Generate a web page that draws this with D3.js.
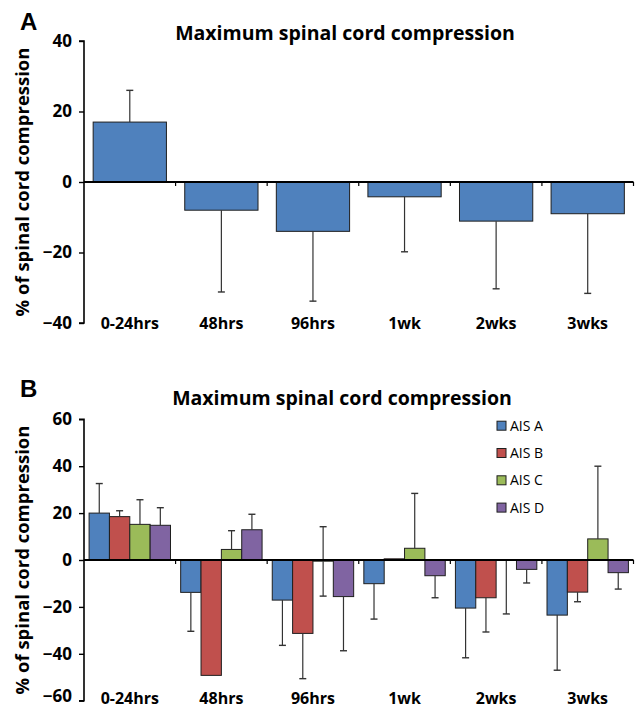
<!DOCTYPE html>
<html>
<head>
<meta charset="utf-8">
<script src="https://cdn.jsdelivr.net/npm/d3@7"></script>
<style>
  html, body { margin: 0; padding: 0; background: #fff; }
  svg { display: block; }
  text { font-family: "Open Sans", sans-serif; fill: #000; }
</style>
</head>
<body>
<svg id="chart" width="640" height="707"></svg>
<script>
// ---------- DATA ----------
const categories = ["0-24hrs", "48hrs", "96hrs", "1wk", "2wks", "3wks"];

// Panel A: overall
const valuesA   = [17, -8, -14, -4.2, -11.1, -9];
const errPlusA  = [9, 0, 0, 0, 0, 0];
const errMinusA = [0, 23.2, 19.8, 15.6, 19.2, 22.6];
const ticksA = [40, 20, 0, -20, -40];

// Panel B: by AIS grade
const seriesB = ["AIS A", "AIS B", "AIS C", "AIS D"];
const aisA = [20, -13.8, -17.1, -10.1, -20.5, -23.5];
const aisB = [18.5, -49.2, -31.3, 0.5, -16.1, -13.7];
const aisC = [15.2, 4.5, -0.5, 5.0, 0, 9.0];
const aisD = [14.8, 12.9, -15.6, -6.7, -4.0, -5.4];
const errPlusB = [
  [12.6, 0, 0, 0, 0, 0],
  [2.5, 0, 0, 0, 0, 0],
  [10.5, 8, 14.7, 23.4, 0, 31],
  [7.5, 6.6, 0, 0, 0, 0]
];
const errMinusB = [
  [0, 16.6, 19.3, 15.1, 21.2, 23.5],
  [0, 0, 19.3, 0, 14.6, 4.1],
  [0, 0, 14.9, 0, 23, 0],
  [0, 0, 23.1, 9.4, 5.8, 7]
];
const ticksB = [60, 40, 20, 0, -20, -40, -60];

const colors = ["#4F81BD", "#C0504D", "#9BBB59", "#8064A2"];
const titleText = "Maximum spinal cord compression";
const yTitle = "% of spinal cord compression";

// ---------- DRAW ----------
const svg = d3.select("#chart");
const left = 84, right = 633.5;

function panelFrame(g, y, yTicks, label, labelY, titleX, titleY, lastShift) {
  const ax = g.append("g").attr("transform", `translate(${left},0)`)
    .call(d3.axisLeft(y).tickValues(yTicks).tickSize(5).tickPadding(7).tickFormat(d3.format("d")));
  ax.select(".domain").attr("stroke", "#000").attr("stroke-width", 1.6)
    .attr("d", `M-5,${y(yTicks[0])}H0V${y(yTicks[yTicks.length-1])}H-5`);
  ax.selectAll(".tick line").attr("stroke", "#000").attr("stroke-width", 1.4);
  ax.selectAll(".tick text").style("font-size", "17px").style("font-weight", "700")
    .style("font-family", "'Open Sans', sans-serif").attr("fill", "#000");
  if (lastShift) {
    ax.selectAll(".tick text").filter(d => d === yTicks[yTicks.length - 1])
      .attr("y", -lastShift);
  }

  g.append("text").attr("x", 20).attr("y", labelY)
    .style("font-family", "'Liberation Sans', Arial, sans-serif")
    .style("font-size", "24px").style("font-weight", "700").text(label);
  g.append("text").attr("x", titleX).attr("y", titleY).attr("text-anchor", "middle")
    .style("font-size", "19.5px").style("font-weight", "700").text(titleText);
  g.append("text")
    .attr("transform", `translate(29,${(y(yTicks[0]) + y(yTicks[yTicks.length-1])) / 2}) rotate(-90)`)
    .attr("text-anchor", "middle")
    .style("font-size", "18.5px").style("font-weight", "700").text(yTitle);
}

function xAxisZero(g, x, y, labelY) {
  const step = x.step();
  const bounds = categories.map((c, i) => left + step * (i + 1));
  g.selectAll(".xt").data(bounds).enter().append("line")
    .attr("x1", d => d).attr("x2", d => d)
    .attr("y1", y(0)).attr("y2", y(0) + 4)
    .attr("stroke", "#000").attr("stroke-width", 1.2);
  g.append("line").attr("x1", left).attr("x2", right).attr("y1", y(0)).attr("y2", y(0))
    .attr("stroke", "#000").attr("stroke-width", 2);
  g.selectAll(".xl").data(categories).enter().append("text")
    .attr("x", d => x(d) + step / 2).attr("y", labelY)
    .attr("text-anchor", "middle")
    .style("font-size", "16px").style("font-weight", "700").text(d => d);
}

function errorBar(g, cx, y, v, plus, minus) {
  const cap = 3.5;
  const segs = [];
  if (plus > 0) segs.push([v, v + plus]);
  if (minus > 0) segs.push([v, v - minus]);
  segs.forEach(([a, b]) => {
    g.append("line").attr("x1", cx).attr("x2", cx).attr("y1", y(a)).attr("y2", y(b))
      .attr("stroke", "#333").attr("stroke-width", 1.2);
    g.append("line").attr("x1", cx - cap).attr("x2", cx + cap).attr("y1", y(b)).attr("y2", y(b))
      .attr("stroke", "#333").attr("stroke-width", 1.4);
  });
}

// ----- Panel A -----
(function () {
  const g = svg.append("g");
  const y = d3.scaleLinear().domain([-40, 40]).range([323, 41]);
  const xOuter = d3.scaleBand().domain(categories).range([left, right]).padding(0);
  const xBar = d3.scaleBand().domain(categories).range([left, right]).paddingInner(0.2).paddingOuter(0.1);

  const bars = categories.map((c, i) => ({ c, v: valuesA[i], p: errPlusA[i], m: errMinusA[i] }));
  bars.forEach(d => {
    g.append("rect")
      .attr("x", xBar(d.c)).attr("width", xBar.bandwidth())
      .attr("y", y(Math.max(0, d.v))).attr("height", Math.abs(y(d.v) - y(0)))
      .attr("fill", colors[0]).attr("stroke", "#1f1f1f").attr("stroke-width", 1);
  });
  bars.forEach(d => errorBar(g, xBar(d.c) + xBar.bandwidth() / 2, y, d.v, d.p, d.m));

  xAxisZero(g, xOuter, y, 328.5);
  panelFrame(g, y, ticksA, "A", 30, 345, 40, 0);
})();

// ----- Panel B -----
(function () {
  const g = svg.append("g");
  const y = d3.scaleLinear().domain([-60, 60]).range([700.7, 419.3]);
  const x = d3.scaleBand().domain(categories).range([left, right]).padding(0);
  const xs = d3.scaleBand().domain(seriesB).range([0, x.step()]).paddingInner(0).paddingOuter(0.25);
  const seriesVals = [aisA, aisB, aisC, aisD];

  seriesB.forEach((s, si) => {
    categories.forEach((c, ci) => {
      const v = seriesVals[si][ci];
      if (v !== 0) {
        g.append("rect")
          .attr("x", x(c) + xs(s)).attr("width", xs.bandwidth())
          .attr("y", y(Math.max(0, v))).attr("height", Math.abs(y(v) - y(0)))
          .attr("fill", colors[si]).attr("stroke", "#1f1f1f").attr("stroke-width", 1);
      }
    });
  });
  seriesB.forEach((s, si) => {
    categories.forEach((c, ci) => {
      errorBar(g, x(c) + xs(s) + xs.bandwidth() / 2, y, seriesVals[si][ci], errPlusB[si][ci], errMinusB[si][ci]);
    });
  });

  xAxisZero(g, x, y, 703.5);
  panelFrame(g, y, ticksB, "B", 397, 342, 405, 4.5);

  const lg = g.append("g");
  seriesB.forEach((s, i) => {
    const cy = 425.7 + i * 27.3;
    lg.append("rect").attr("x", 497).attr("y", cy - 4.5).attr("width", 9).attr("height", 9)
      .attr("fill", colors[i]).attr("stroke", "#1f1f1f").attr("stroke-width", 1);
    lg.append("text").attr("x", 510).attr("y", cy + 5)
      .style("font-size", "14px").text(s);
  });
})();
</script>
</body>
</html>
